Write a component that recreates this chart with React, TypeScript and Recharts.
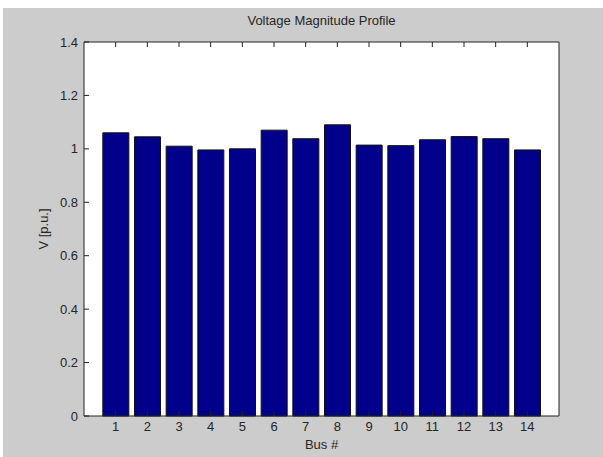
import React from 'react';
import { BarChart, Bar, XAxis, YAxis, CartesianGrid } from 'recharts';

const buses = [1, 2, 3, 4, 5, 6, 7, 8, 9, 10, 11, 12, 13, 14];
const voltages = [1.06, 1.045, 1.01, 0.996, 1.0, 1.07, 1.038, 1.09, 1.014, 1.012, 1.034, 1.046, 1.038, 0.996];
const yTicks = [0, 0.2, 0.4, 0.6, 0.8, 1, 1.2, 1.4];
const xTicks = buses;
const title = 'Voltage Magnitude Profile';
const xLabel = 'Bus #';
const yLabel = 'V [p.u.]';

const data = buses.map((b, i) => ({ bus: b, v: voltages[i] }));

const FONT = '"Liberation Sans", Arial, Helvetica, sans-serif';
const FS = 13;
const TXT = '#262626';
const AXIS = '#222';
const TICK_LEN = 5;
const X_MARGIN = 6;
const Y_MARGIN = 6;

const BottomTick = (p: any) => {
  const axisY = p.y - X_MARGIN;
  return (
    <g>
      <line x1={p.x} x2={p.x} y1={axisY} y2={axisY - TICK_LEN} stroke={AXIS} />
      <text x={p.x} y={p.y} dy="0.71em" textAnchor="middle" fontSize={FS} fontFamily={FONT} fill={TXT}>
        {p.payload.value}
      </text>
    </g>
  );
};

const LeftTick = (p: any) => {
  const axisX = p.x + Y_MARGIN;
  return (
    <g>
      <line x1={axisX} x2={axisX + TICK_LEN} y1={p.y} y2={p.y} stroke={AXIS} />
      <text x={p.x} y={p.y} dy="0.355em" textAnchor="end" fontSize={FS} fontFamily={FONT} fill={TXT}>
        {p.payload.value}
      </text>
    </g>
  );
};

const TopTick = (p: any) => (
  <line x1={p.x} x2={p.x} y1={p.y} y2={p.y + TICK_LEN} stroke={AXIS} />
);

const RightTick = (p: any) => (
  <line x1={p.x} x2={p.x - TICK_LEN} y1={p.y} y2={p.y} stroke={AXIS} />
);

export default function App() {
  return (
    <div style={{ position: 'fixed', left: 0, top: 0, width: 603, height: 457, background: '#fff' }}>
      <div style={{ position: 'absolute', left: 3, top: 8, right: 0, bottom: 0, background: '#cccccc' }} />
      <div
        style={{
          position: 'absolute',
          left: 84,
          width: 475,
          top: 13,
          textAlign: 'center',
          fontFamily: FONT,
          fontSize: FS,
          color: TXT,
        }}
      >
        {title}
      </div>
      <div style={{ position: 'absolute', left: 0, top: 0 }}>
        <BarChart
          width={603}
          height={457}
          data={data}
          margin={{ top: 42, right: 44, left: 0, bottom: 0 }}
        >
          <CartesianGrid xAxisId="main" yAxisId="main" fill="#fff" stroke="none" />
          <XAxis
            xAxisId="main"
            dataKey="bus"
            type="number"
            domain={[0, 15]}
            ticks={xTicks}
            interval={0}
            height={41}
            tickLine={false}
            tickSize={0}
            tickMargin={X_MARGIN}
            axisLine={{ stroke: AXIS }}
            tick={<BottomTick />}
            label={{
              content: (p: any) => {
                const vb = p.viewBox;
                return (
                  <text x={vb.x + vb.width / 2} y={vb.y + 33} textAnchor="middle" fontSize={FS} fontFamily={FONT} fill={TXT}>
                    {xLabel}
                  </text>
                );
              },
            }}
          />
          <XAxis
            xAxisId="top"
            dataKey="bus"
            type="number"
            domain={[0, 15]}
            ticks={xTicks}
            interval={0}
            orientation="top"
            mirror
            tickSize={0}
            tickMargin={0}
            tickLine={false}
            tick={<TopTick />}
            axisLine={{ stroke: AXIS }}
          />
          <YAxis
            yAxisId="main"
            domain={[0, 1.4]}
            ticks={yTicks}
            interval={0}
            width={84}
            tickLine={false}
            tickSize={0}
            tickMargin={Y_MARGIN}
            axisLine={{ stroke: AXIS }}
            tick={<LeftTick />}
            label={{
              content: (p: any) => {
                const vb = p.viewBox;
                const cx = 43;
                const cy = vb.y + vb.height / 2;
                return (
                  <text
                    x={cx}
                    y={cy}
                    textAnchor="middle"
                    dominantBaseline="central"
                    transform={`rotate(-90 ${cx} ${cy})`}
                    fontSize={FS}
                    fontFamily={FONT}
                    fill={TXT}
                  >
                    {yLabel}
                  </text>
                );
              },
            }}
          />
          <YAxis
            yAxisId="right"
            domain={[0, 1.4]}
            ticks={yTicks}
            interval={0}
            orientation="right"
            mirror
            tickSize={0}
            tickMargin={0}
            tickLine={false}
            tick={<RightTick />}
            axisLine={{ stroke: AXIS }}
          />
          <Bar
            xAxisId="main"
            yAxisId="main"
            dataKey="v"
            barSize={26}
            fill="#00008b"
            stroke="#111"
            strokeWidth={1}
            isAnimationActive={false}
          />
        </BarChart>
      </div>
    </div>
  );
}
